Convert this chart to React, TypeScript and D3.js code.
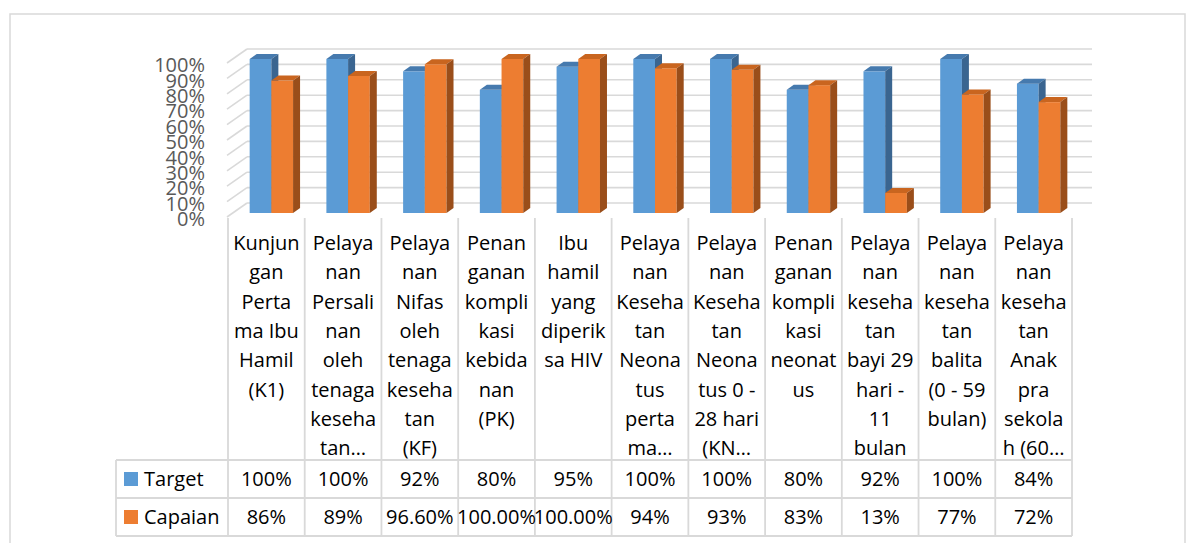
import * as d3 from 'd3';
import React from 'react';

const width = 1191;
const height = 543;

// chart values
const categories = [
  'K1', 'Persalinan', 'Nifas', 'PK', 'HIV', 'Neonatus pertama',
  'KN', 'Komplikasi neonatus', 'Bayi', 'Balita', 'Apras'
];
const categoryLines = [
  ['Kunjun', 'gan', 'Perta', 'ma Ibu', 'Hamil', '(K1)'],
  ['Pelaya', 'nan', 'Persali', 'nan', 'oleh', 'tenaga', 'keseha', 'tan…'],
  ['Pelaya', 'nan', 'Nifas', 'oleh', 'tenaga', 'keseha', 'tan', '(KF)'],
  ['Penan', 'ganan', 'kompli', 'kasi', 'kebida', 'nan', '(PK)'],
  ['Ibu', 'hamil', 'yang', 'diperik', 'sa HIV'],
  ['Pelaya', 'nan', 'Keseha', 'tan', 'Neona', 'tus', 'perta', 'ma…'],
  ['Pelaya', 'nan', 'Keseha', 'tan', 'Neona', 'tus 0 -', '28 hari', '(KN…'],
  ['Penan', 'ganan', 'kompli', 'kasi', 'neonat', 'us'],
  ['Pelaya', 'nan', 'keseha', 'tan', 'bayi 29', 'hari -', '11', 'bulan'],
  ['Pelaya', 'nan', 'keseha', 'tan', 'balita', '(0 - 59', 'bulan)'],
  ['Pelaya', 'nan', 'keseha', 'tan', 'Anak', 'pra', 'sekola', 'h (60…']
];
const seriesNames = ['Target', 'Capaian'];
const target = [1.0, 1.0, 0.92, 0.8, 0.95, 1.0, 1.0, 0.8, 0.92, 1.0, 0.84];
const capaian = [0.86, 0.89, 0.966, 1.0, 1.0, 0.94, 0.93, 0.83, 0.13, 0.77, 0.72];
const targetLabels = ['100%', '100%', '92%', '80%', '95%', '100%', '100%', '80%', '92%', '100%', '84%'];
const capaianLabels = ['86%', '89%', '96.60%', '100.00%', '100.00%', '94%', '93%', '83%', '13%', '77%', '72%'];
const yTicks = [0, 0.1, 0.2, 0.3, 0.4, 0.5, 0.6, 0.7, 0.8, 0.9, 1.0];

const seriesValues = [target, capaian];
const seriesLabels = [targetLabels, capaianLabels];
const colors = [
  { front: '#5b9bd5', top: '#467aae', side: '#3a6590' },
  { front: '#ed7d31', top: '#c9651f', side: '#9a4e1a' }
];

const font = '"Open Sans", sans-serif';
const grid = '#d9d9d9';

// layout
const plotLeft = 228;
const plotRight = 1072;
const depthX = 20; // back wall offset
const depthY = 14;
const barDepthX = 7;
const barDepthY = 5;
const tableTop = 460;
const rowH = 38;
const legendLeft = 116;

const x0 = d3.scaleBand<string>().domain(categories).range([plotLeft, plotRight]);
const groupW = 43.4;
const x1 = d3.scaleBand<string>().domain(seriesNames).range([0, groupW]);
const groupOffset = (x0.bandwidth() - groupW) / 2 + 5;
const yFront = d3.scaleLinear().domain([0, 1]).range([213, 59]);
const yBack = (v: number) => yFront(v) - 10;
const pct = d3.format('.0%');

export default function App() {
  const bars: JSX.Element[] = [];
  categories.forEach((c, i) => {
    seriesNames.forEach((s, j) => {
      const v = seriesValues[j][i];
      const x = x0(c)! + groupOffset + x1(s)!;
      const w = x1.bandwidth();
      const yt = yFront(v);
      const yb = yFront(0);
      const col = colors[j];
      bars.push(
        <g key={`${c}-${s}`}>
          <rect x={x} y={yt} width={w} height={yb - yt} fill={col.front} />
          <path
            d={`M${x},${yt}L${x + barDepthX},${yt - barDepthY}L${x + w + barDepthX},${yt - barDepthY}L${x + w},${yt}Z`}
            fill={col.top}
          />
          <path
            d={`M${x + w},${yt}L${x + w + barDepthX},${yt - barDepthY}L${x + w + barDepthX},${yb - barDepthY}L${x + w},${yb}Z`}
            fill={col.side}
          />
        </g>
      );
    });
  });

  return (
    <svg
      width={width}
      height={height}
      style={{ position: 'absolute', left: 0, top: 0, background: '#fff' }}
      fontFamily={font}
    >
      <rect x={10} y={14} width={1175} height={560} fill="#fff" stroke={grid} strokeWidth={1.5} />

      {/* back wall and left wall grid */}
      {yTicks.map(t => (
        <g key={t}>
          <line x1={plotLeft + depthX - 1} x2={plotRight + depthX} y1={yBack(t)} y2={yBack(t)} stroke={grid} strokeWidth={1.6} />
          <line x1={plotLeft - 1} x2={plotLeft + depthX - 1} y1={yBack(t) + depthY} y2={yBack(t)} stroke={grid} strokeWidth={1.6} />
        </g>
      ))}

      {/* y axis labels */}
      {yTicks.map(t => (
        <text
          key={t}
          x={205}
          y={yFront(t) + 6}
          dy="0.36em"
          textAnchor="end"
          fontSize={20}
          fill="#595959"
        >
          {pct(t)}
        </text>
      ))}

      {bars}

      {/* data table */}
      <g stroke={grid} strokeWidth={1.8}>
        {categories.map(c => (
          <line key={c} x1={x0(c)} x2={x0(c)} y1={218} y2={tableTop + rowH * 2} />
        ))}
        <line x1={plotRight} x2={plotRight} y1={218} y2={tableTop + rowH * 2} />
        <line x1={legendLeft} x2={legendLeft} y1={tableTop} y2={tableTop + rowH * 2} />
        {[0, 1, 2].map(r => (
          <line key={r} x1={legendLeft} x2={plotRight} y1={tableTop + rowH * r} y2={tableTop + rowH * r} />
        ))}
      </g>

      {categories.map((c, i) => (
        <text key={c} x={x0(c)! + x0.bandwidth() / 2} textAnchor="middle" fontSize={20} fill="#000">
          {categoryLines[i].map((ln, k) => (
            <tspan key={k} x={x0(c)! + x0.bandwidth() / 2} y={250 + k * 29.3}>
              {ln}
            </tspan>
          ))}
        </text>
      ))}

      {seriesNames.map((s, j) => {
        const cy = tableTop + rowH * j + rowH / 2;
        return (
          <g key={s}>
            <rect x={124} y={cy - 7} width={14} height={14} fill={colors[j].front} />
            <text x={144} y={cy} dy="0.36em" fontSize={20} fill="#000">
              {s}
            </text>
            {categories.map((c, i) => (
              <text
                key={c}
                x={x0(c)! + x0.bandwidth() / 2}
                y={cy}
                dy="0.36em"
                textAnchor="middle"
                fontSize={20}
                fill="#000"
              >
                {seriesLabels[j][i]}
              </text>
            ))}
          </g>
        );
      })}
    </svg>
  );
}
